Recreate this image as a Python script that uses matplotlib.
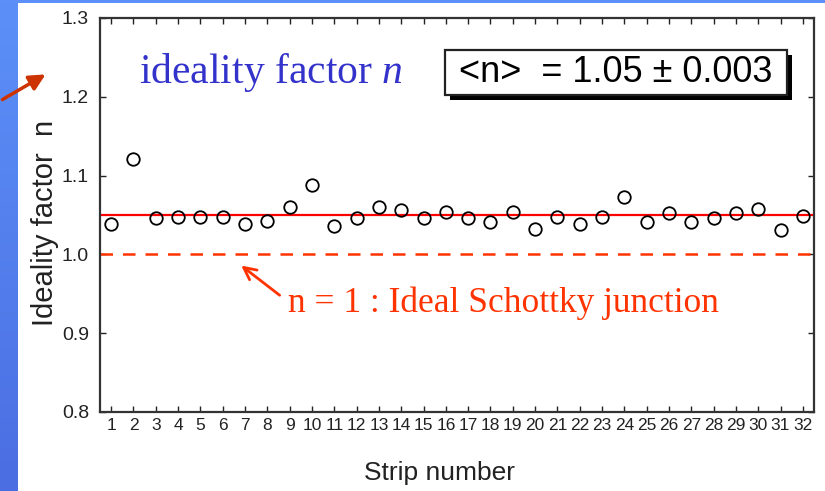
import numpy as np
import matplotlib.pyplot as plt
import matplotlib.patheffects as pe
from matplotlib.patches import Rectangle, FancyArrowPatch
from matplotlib.colors import LinearSegmentedColormap

plt.rcParams['font.family'] = ['Liberation Sans', 'DejaVu Sans']
plt.rcParams['mathtext.fontset'] = 'custom'
plt.rcParams['mathtext.rm'] = 'Liberation Serif'
plt.rcParams['mathtext.it'] = 'Liberation Serif:italic'

# Ideality factor measured on each strip
strips = list(range(1, 33))
ideality = [1.039, 1.121, 1.046, 1.048, 1.047, 1.047, 1.038, 1.042,
            1.060, 1.088, 1.036, 1.046, 1.060, 1.056, 1.046, 1.054,
            1.046, 1.041, 1.054, 1.032, 1.047, 1.039, 1.048, 1.073,
            1.041, 1.053, 1.041, 1.046, 1.053, 1.057, 1.031, 1.049]
mean_n = 1.05
ideal_n = 1.0
y_ticks = [0.8, 0.9, 1.0, 1.1, 1.2, 1.3]

fig = plt.figure(figsize=(8.25, 4.91), dpi=100)
fig.patch.set_facecolor('white')

# blue slide border on the left and the top
bg = fig.add_axes([0, 0, 18 / 825, 1])
blue = LinearSegmentedColormap.from_list('slide', ['#5c90f8', '#4b6ee2'])
bg.imshow(np.linspace(0, 1, 256).reshape(-1, 1), aspect='auto', cmap=blue)
bg.axis('off')
fig.add_artist(Rectangle((0, 1 - 3 / 491), 1, 3 / 491, transform=fig.transFigure,
                         color='#5c90f8', lw=0))

ax = fig.add_axes([100 / 825, 79 / 491, 714 / 825, 394 / 491])

ax.plot(strips, ideality, 'o', ms=9, mfc='none', mec='black', mew=1.3, zorder=3)
ax.axhline(mean_n, color='#ff0000', lw=1.6, zorder=2)
ax.axhline(ideal_n, color='#ff3300', lw=1.8, ls=(0, (5, 4)), zorder=2)

ax.set_xlim(0.5, 32.5)
ax.set_ylim(0.8, 1.3)
ax.set_xticks(strips)
ax.set_yticks(y_ticks)
ax.set_yticklabels([f'{v:.1f}' for v in y_ticks], fontsize=14)
ax.set_xticklabels([str(s) for s in strips], fontsize=12.5)
ax.tick_params(direction='in', length=4, width=1, top=True, right=True,
               colors='#222222', labelcolor='#222222', pad=4)
ax.tick_params(axis='y', pad=8)
for s in ax.spines.values():
    s.set_linewidth(1.6)
    s.set_color('#333333')

ax.set_xlabel('Strip number', fontsize=19, color='#222222')
ax.xaxis.set_label_coords(0.476, -0.125)
ax.set_ylabel('Ideality factor  n', fontsize=21, color='#222222')
ax.yaxis.set_label_coords(-0.058, 0.48)

# title inside the plot
ax.text(2.25, 1.2175, 'ideality factor $n$', fontsize=30, color='#3333cc',
        family='Liberation Serif', va='baseline')

# mean value box with drop shadow
box = Rectangle((0.483, 0.805), 0.479, 0.114, transform=ax.transAxes,
                facecolor='white', edgecolor='#222222', lw=1.6, zorder=4)
box.set_path_effects([pe.SimplePatchShadow(offset=(3.5, -3.5), shadow_rgbFace='black', alpha=1),
                      pe.Normal()])
ax.add_patch(box)
ax.text(0.503, 0.862, '<n>  = 1.05 \u00b1 0.003', transform=ax.transAxes,
        fontsize=26, va='center', ha='left', zorder=5)

# n = 1 reference annotation
ax.annotate('', xy=(6.73, 0.988), xytext=(8.65, 0.946),
            arrowprops=dict(arrowstyle='->', color='#ff3300', lw=2, mutation_scale=22))
ax.text(8.92, 0.927, 'n = 1 : Ideal Schottky junction', fontsize=25.5, color='#ff3300',
        family='Liberation Serif', va='baseline')

# arrow coming in from the slide border
fig.add_artist(FancyArrowPatch((0, 1 - 101 / 491), (48 / 825, 1 - 73 / 491),
                               transform=fig.transFigure, arrowstyle='-|>',
                               mutation_scale=24, lw=2.5, color='#cc3300'))

fig.savefig('out.png', dpi=100)
